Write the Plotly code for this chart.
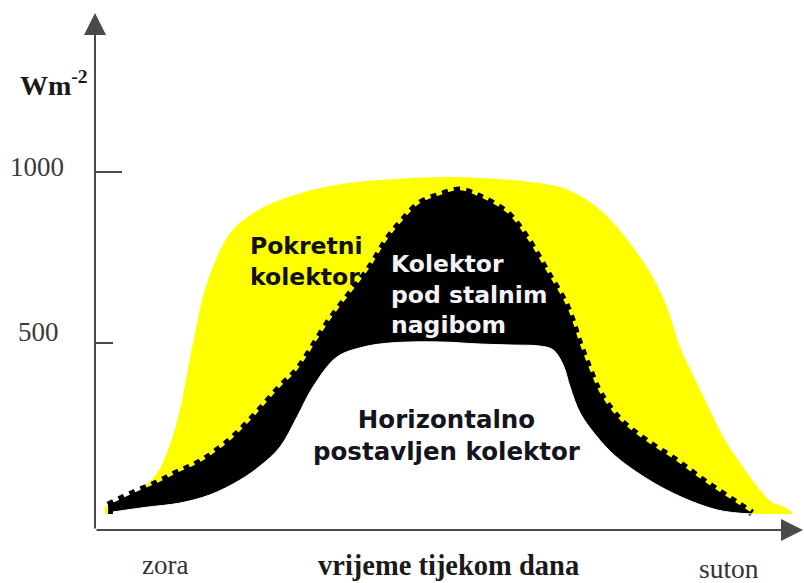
import plotly.graph_objects as go

# ---- data (time of day in hours, irradiance in W/m^2) ----
moving_t = [4.23, 4.57, 5.10, 5.42, 5.71, 5.94, 6.24, 6.56, 7.09, 7.66, 8.23, 9.37, 10.97,
            12.34, 13.94, 14.70, 15.47, 15.93, 16.34, 16.75, 17.10, 17.37, 17.67, 17.94,
            18.40, 18.86, 19.20, 19.50, 19.77, 19.93]
moving_w = [23, 41, 79, 120, 202, 304, 500, 675, 822, 883, 918, 959, 980,
            985, 971, 953, 898, 839, 772, 693, 596, 488, 406, 333,
            216, 129, 70, 32, 20, 6]

fixed_t = [4.30, 4.87, 5.42, 5.87, 6.40, 7.09, 7.66, 8.23, 8.62, 9.37, 10.29, 10.67, 11.04,
           11.43, 11.89, 12.34, 12.80, 13.42, 13.87, 14.33, 14.79, 15.09, 15.31, 15.54,
           16.00, 16.57, 17.26, 17.94, 18.63, 19.02]
fixed_w = [26, 61, 91, 120, 152, 216, 289, 371, 421, 567, 722, 801, 860,
           909, 933, 947, 927, 880, 807, 708, 605, 494, 421, 354,
           275, 216, 158, 94, 35, 3]

horiz_t = [4.41, 5.19, 5.94, 6.63, 7.31, 7.77, 8.23, 8.62, 8.98, 9.53, 10.13, 10.74, 11.89,
           12.80, 13.55, 14.17, 14.47, 14.70, 14.86, 15.09, 15.54, 16.00, 17.07, 18.22, 19.04]
horiz_w = [6, 20, 32, 56, 99, 140, 196, 284, 371, 459, 488, 500, 503,
           497, 494, 491, 480, 436, 371, 295, 216, 158, 70, 12, 0]

y_ticks = [1000, 500]
y_tick_labels = ["1000", "500"]

# ---- layout constants (pixels) ----
W, H = 804, 583
L, R, T, B = 95, 9, 13, 53
PW, PH = W - L - R, H - T - B


def px(x):
    return (x - L) / PW


def py(y):
    return (H - B - y) / PH


fig = go.Figure()
fig.add_trace(go.Scatter(x=moving_t, y=moving_w, mode="lines", fill="tozeroy",
                         fillcolor="#FFFF00", line=dict(color="#FFFF00", width=0, shape="spline"),
                         hoverinfo="skip", showlegend=False))
fig.add_trace(go.Scatter(x=fixed_t, y=fixed_w, mode="lines", fill="tozeroy",
                         fillcolor="#000000",
                         line=dict(color="#000000", width=7, dash="6px,6px", shape="spline"),
                         hoverinfo="skip", showlegend=False))
fig.add_trace(go.Scatter(x=horiz_t, y=horiz_w, mode="lines", fill="tozeroy",
                         fillcolor="#FFFFFF", line=dict(color="#FFFFFF", width=1, shape="spline"),
                         hoverinfo="skip", showlegend=False))

axis_col = "#4a4a4a"
shapes = [
    dict(type="line", xref="x", yref="y", x0=4 - 7 / 43.75, x1=4 + 27 / 43.75,
         y0=y_ticks[0], y1=y_ticks[0], line=dict(color=axis_col, width=2)),
    dict(type="line", xref="x", yref="y", x0=4 - 7 / 43.75, x1=4 + 18 / 43.75,
         y0=y_ticks[1], y1=y_ticks[1], line=dict(color=axis_col, width=2)),
]

serif = "Liberation Serif, Times New Roman, serif"
sans = "DejaVu Sans, Verdana, sans-serif"
ann = [
    # axes arrows
    dict(x=px(95), y=py(13), xref="paper", yref="paper", ax=0, ay=517, axref="pixel", ayref="pixel",
         text="", showarrow=True, arrowhead=2, arrowsize=2.2, arrowwidth=2, arrowcolor=axis_col),
    dict(x=px(803), y=py(530), xref="paper", yref="paper", ax=-708, ay=0, axref="pixel", ayref="pixel",
         text="", showarrow=True, arrowhead=2, arrowsize=2.2, arrowwidth=2, arrowcolor=axis_col),
    # y label
    dict(x=px(90), y=py(83), xref="paper", yref="paper", xanchor="right", yanchor="middle",
         text="<b>Wm<sup>-2</sup></b>", showarrow=False,
         font=dict(family=serif, size=28, color="#1a1a1a")),
    dict(x=px(66), y=py(167), xref="paper", yref="paper", xanchor="right", yanchor="middle",
         text=y_tick_labels[0], showarrow=False, font=dict(family=serif, size=27, color="#3a3a3a")),
    dict(x=px(61), y=py(332), xref="paper", yref="paper", xanchor="right", yanchor="middle",
         text=y_tick_labels[1], showarrow=False, font=dict(family=serif, size=27, color="#3a3a3a")),
    # x labels
    dict(x=px(165), y=py(565), xref="paper", yref="paper", xanchor="center", yanchor="middle",
         text="zora", showarrow=False, font=dict(family=serif, size=27, color="#333333")),
    dict(x=px(448), y=py(565), xref="paper", yref="paper", xanchor="center", yanchor="middle",
         text="<b>vrijeme tijekom dana</b>", showarrow=False,
         font=dict(family=serif, size=28.5, color="#1a1a1a")),
    dict(x=px(729), y=py(568), xref="paper", yref="paper", xanchor="center", yanchor="middle",
         text="suton", showarrow=False, font=dict(family=serif, size=27.5, color="#333333")),
    # in-chart labels
    dict(x=px(248), y=py(261), xref="paper", yref="paper", xanchor="left", yanchor="middle", align="left",
         text="<b>Pokretni<br>kolektor</b>", showarrow=False,
         font=dict(family=sans, size=23.5, color="#111111")),
    dict(x=px(389), y=py(294), xref="paper", yref="paper", xanchor="left", yanchor="middle", align="left",
         text="<b>Kolektor<br>pod stalnim<br>nagibom</b>", showarrow=False,
         font=dict(family=sans, size=23.5, color="#F4F4F8")),
    dict(x=px(447), y=py(436), xref="paper", yref="paper", xanchor="center", yanchor="middle", align="center",
         text="<b>Horizontalno<br>postavljen kolektor</b>", showarrow=False,
         font=dict(family=sans, size=24.5, color="#14141e")),
]

fig.update_layout(
    width=W, height=H,
    margin=dict(l=L, r=R, t=T, b=B),
    paper_bgcolor="white", plot_bgcolor="white",
    xaxis=dict(range=[4, 20], visible=False, fixedrange=True),
    yaxis=dict(range=[-(H - B - 514) / 0.342, (514 - T) / 0.342], visible=False, fixedrange=True),
    shapes=shapes,
    annotations=ann,
    showlegend=False,
)

fig.write_html("out.html", config={"displayModeBar": False},
               post_script="document.body.style.margin='0';document.body.style.overflow='hidden';")
